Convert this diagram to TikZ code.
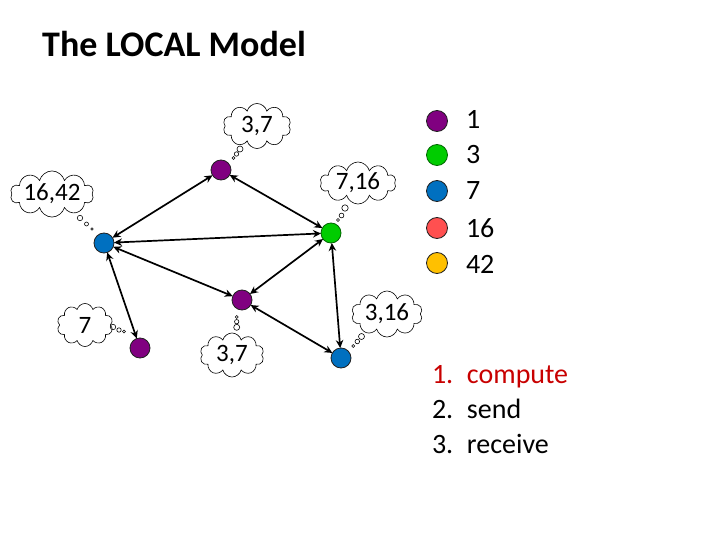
\documentclass[tikz,border=0pt]{standalone}
\usepackage{fontspec}
\setmainfont{Carlito}
\usetikzlibrary{arrows.meta,shapes.symbols}

\begin{document}
\begin{tikzpicture}[x=1pt,y=-1pt,
  proc/.style={circle, draw=custcol_20_20_20, line width=0.8pt, minimum size=20pt, inner sep=0, outer sep=0},
  link/.style={line width=1.7pt, {Stealth[length=8pt,width=7.5pt]}-{Stealth[length=8pt,width=7.5pt]}},
  thought/.style={cloud, cloud puffs=10, cloud ignores aspect, draw, line width=0.6pt, inner sep=0, font=\fontsize{25pt}{25pt}\selectfont},
  puff/.style={line width=0.6pt},
  txt/.style={inner sep=0, outer sep=0, anchor=base west, font=\fontsize{28pt}{28pt}\selectfont}]
\useasboundingbox (0,0) rectangle (720,540);
\definecolor{custcol_20_20_20}{RGB}{32, 32, 32}
\definecolor{custcol_80_0_80}{RGB}{128, 0, 128}
\definecolor{custcol_0_cc_0}{RGB}{0, 204, 0}
\definecolor{custcol_0_70_c0}{RGB}{0, 112, 192}
\definecolor{custcol_ff_50_50}{RGB}{255, 80, 80}
\definecolor{custcol_ff_c0_0}{RGB}{255, 192, 0}
\definecolor{custcol_c0_0_0}{RGB}{200, 0, 0}
\node[inner sep=0, anchor=base west, font=\fontsize{36pt}{36pt}\bfseries] (title) at (42.0,57.0) {The LOCAL Model};
% network
\node[proc, fill=custcol_80_0_80] (top) at (221.0,170.0) {};
\node[proc, fill=custcol_0_cc_0, draw=green!40!black] (green) at (331.0,233.0) {};
\node[proc, fill=custcol_0_70_c0] (left) at (104.0,243.0) {};
\node[proc, fill=custcol_80_0_80] (mid) at (242.0,300.0) {};
\node[proc, fill=custcol_80_0_80] (low) at (140.0,348.0) {};
\node[proc, fill=custcol_0_70_c0] (right) at (341.0,358.0) {};
\draw[link] (top) -- (left);
\draw[link] (top) -- (green);
\draw[link] (left) -- (green);
\draw[link] (left) -- (mid);
\draw[link] (green) -- (mid);
\draw[link] (green) -- (right);
\draw[link] (mid) -- (right);
\draw[link] (left) -- (low);
\node[thought, minimum width=68pt, minimum height=45pt] (ctop) at (257.0,126.0) {3,7};
\node[thought, minimum width=80pt, minimum height=44pt] (cleft) at (52.0,194.0) {16,42};
\node[thought, minimum width=76pt, minimum height=42pt] (cgreen) at (358.0,183.0) {7,16};
\node[thought, minimum width=56pt, minimum height=43pt] (clow) at (85.0,325.0) {7};
\node[thought, minimum width=64pt, minimum height=44pt] (cmid) at (232.0,355.0) {3,7};
\node[thought, minimum width=71pt, minimum height=46pt] (cright) at (387.0,314.0) {3,16};
\draw[puff] (240.0,149.0) circle (3.0) (236.5,154.0) circle (2.2) (233.5,158.0) circle (1.5);
\draw[puff] (80.0,218.0) circle (2.7) (86.5,224.0) circle (2.0) (92.0,229.0) circle (1.3);
\draw[puff] (345.0,208.0) circle (3.2) (341.5,215.5) circle (2.4) (338.0,220.0) circle (1.5);
\draw[puff] (113.0,327.0) circle (2.7) (119.0,330.0) circle (2.2) (124.0,331.5) circle (1.5);
\draw[puff] (236.7,317.0) circle (1.5) (236.7,321.7) circle (2.2) (236.7,327.3) circle (3.0);
\draw[puff] (361.5,336.5) circle (3.0) (357.3,341.5) circle (2.3) (353.3,346.0) circle (1.5);
% legend
\node[proc, minimum size=21pt, fill=custcol_80_0_80] (leg1) at (437.0,121.0) {};
\node[proc, minimum size=21pt, fill=custcol_0_cc_0, draw=green!40!black] (leg3) at (437.0,155.0) {};
\node[proc, minimum size=21pt, fill=custcol_0_70_c0] (leg7) at (437.0,191.0) {};
\node[proc, minimum size=21pt, fill=custcol_ff_50_50] (leg16) at (437.0,228.0) {};
\node[proc, minimum size=21pt, fill=custcol_ff_c0_0] (leg42) at (437.0,263.0) {};
\node[txt] (num1) at (466.0,129.0) {1};
\node[txt] (num3) at (466.0,164.0) {3};
\node[txt] (num7) at (466.0,200.0) {7};
\node[txt] (num16) at (466.0,237.0) {16};
\node[txt] (num42) at (466.0,273.0) {42};
% steps
\node[txt, custcol_c0_0_0] (step1) at (432.0,383.0) {\makebox[35pt][l]{1.}compute};
\node[txt] (step2) at (432.0,418.0) {\makebox[35pt][l]{2.}send};
\node[txt] (step3) at (432.0,453.0) {\makebox[35pt][l]{3.}receive};
\end{tikzpicture}
\end{document}
